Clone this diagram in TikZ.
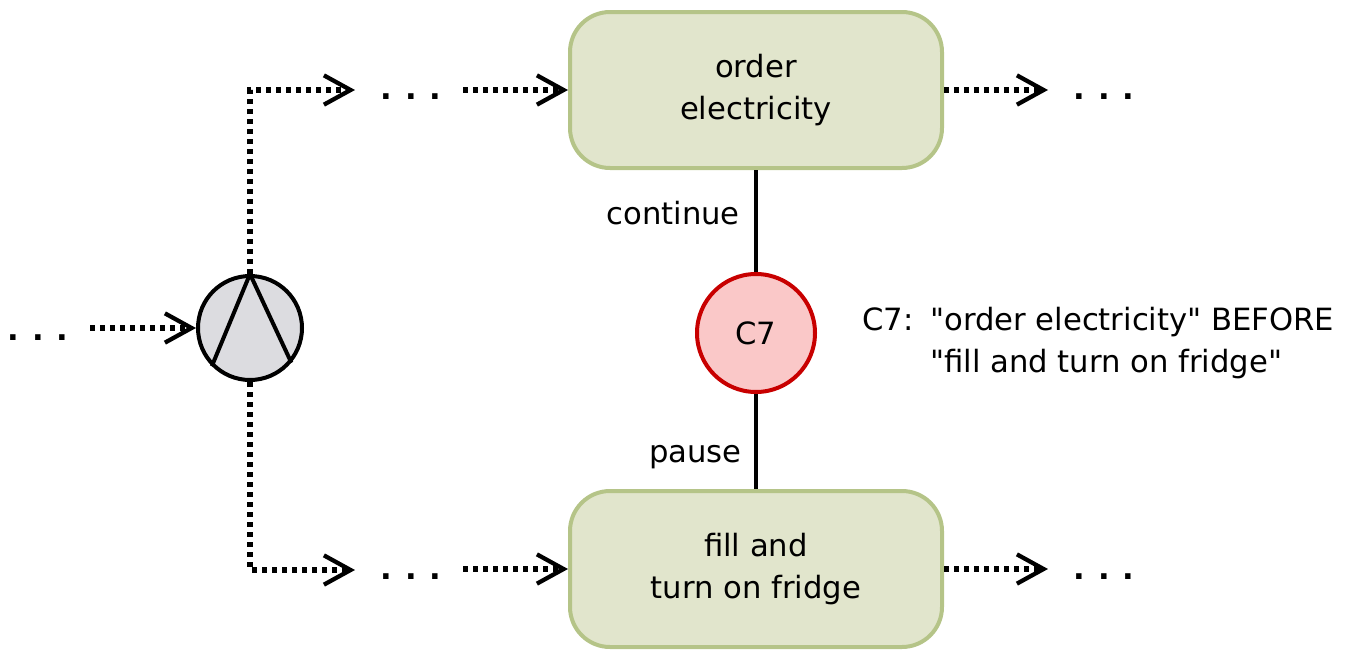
\documentclass[tikz,border=0pt]{standalone}
\usepackage{fontspec}
\setmainfont{DejaVu Sans}[Ligatures=TeXOff]
\usetikzlibrary{arrows.meta}
\definecolor{taskfill}{RGB}{225,229,204}
\definecolor{taskline}{RGB}{181,196,136}
\definecolor{consfill}{RGB}{250,200,200}
\definecolor{consline}{RGB}{200,0,0}
\definecolor{gatefill}{RGB}{220,220,224}
\newcommand\dotrow{\bfseries.\hspace{9.5pt}.\hspace{9.5pt}.}
\begin{document}
\begin{tikzpicture}[x=0.75pt,y=-0.75pt,
  every node/.style={font=\fontsize{23}{31.5}\selectfont},
  task/.style={draw=taskline, fill=taskfill, line width=3pt, rounded corners=30pt,
    minimum width=279pt, minimum height=117pt, align=center, inner sep=0pt},
  constraint/.style={circle, draw=consline, fill=consfill, line width=3pt,
    minimum size=88.5pt, inner sep=0pt},
  gateway/.style={circle, draw=black, fill=gatefill, line width=3pt,
    minimum size=78pt, inner sep=0pt},
  flow/.style={line width=3.9pt, dash pattern=on 3.9pt off 3.6pt,
    -{Straight Barb[length=20pt,width=22pt,line width=3.2pt]}},
  link/.style={line width=3pt},
  dotsnode/.style={inner sep=0pt},
  label/.style={inner sep=0pt}]
\useasboundingbox (0,0) rectangle (1347,650);

% activities
\node[task] (order) at (756,90) {order\\electricity};
\node[task] (fridge) at (756,569) {fill and\\turn on fridge};

% constraint C7
\node[constraint] (c7) at (756,333) {C7};
\draw[link] (order) -- (c7);
\draw[link] (c7) -- (fridge);
\node[label, anchor=base east] (cont) at (740,224) {continue};
\node[label, anchor=base east] (pause) at (742,462) {pause};
\node[label, anchor=base west] (legend) at (862,351)
  {\begin{tabular}{@{}l@{\hspace{12.5pt}}l@{}}
   C7: & "order electricity" BEFORE\\
       & "fill and turn on fridge"
   \end{tabular}};

% parallel split gateway
\node[gateway] (gw) at (250,328) {};
\draw[line width=3pt] (gw.225) -- (gw.north) -- (gw.320);

% continuation marks
\node[dotsnode] (e0) at (38,338) {\dotrow};
\node[dotsnode] (e1) at (411,97) {\dotrow};
\node[dotsnode] (e2) at (411,577) {\dotrow};
\node[dotsnode] (e3) at (1104,97) {\dotrow};
\node[dotsnode] (e4) at (1104,577) {\dotrow};

% sequence flows
\coordinate (in0) at (90,328);
\coordinate (a1) at (355,90);
\coordinate (a2) at (355,570);
\coordinate (b1) at (463,90);
\coordinate (b2) at (463,569);
\coordinate (r1) at (1048,90);
\coordinate (r2) at (1048,569);
\draw[flow] (in0) -- (gw.west);
\draw[flow] (gw.north) |- (a1);
\draw[flow] (gw.south) |- (a2);
\draw[flow] (b1) -- (order.west);
\draw[flow] (b2) -- (fridge.west);
\draw[flow] (order.east) -- (r1);
\draw[flow] (fridge.east) -- (r2);
\end{tikzpicture}
\end{document}
